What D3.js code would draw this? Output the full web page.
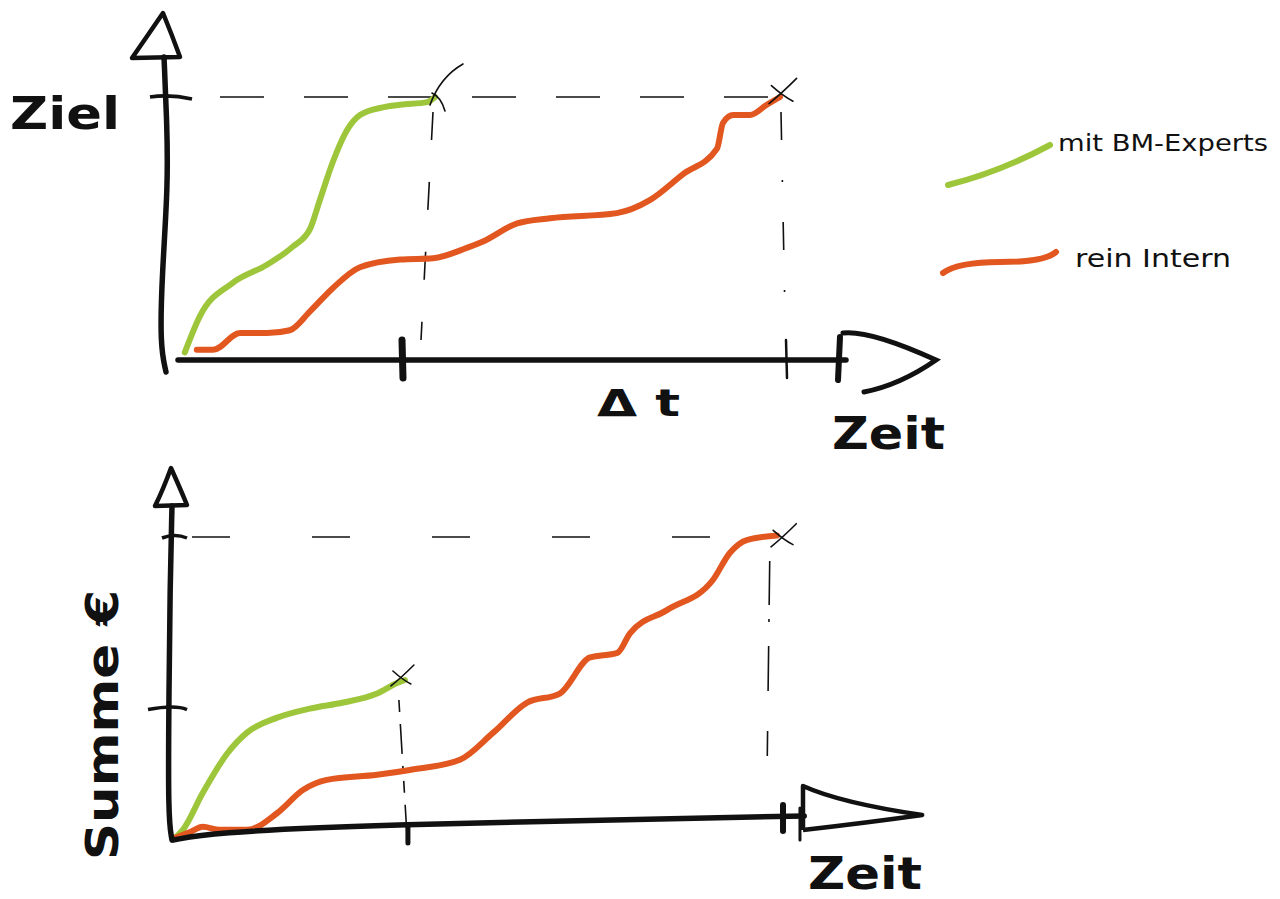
<!DOCTYPE html>
<html>
<head>
<meta charset="utf-8">
<script src="https://cdn.jsdelivr.net/npm/d3@7"></script>
<style>
  html, body { margin: 0; padding: 0; background: #fff; }
  svg { display: block; }
</style>
</head>
<body>
<svg id="chart" width="1280" height="899"></svg>
<script>
// ---------- DATA (time 0..10, value in % of goal / sum) ----------
const seriesNames = ["mit BM-Experts", "rein Intern"];
const seriesColors = ["#9dc63b", "#e2561f"];

// Top chart: progress towards goal ("Ziel")
const topGreenT  = [0.08, 0.33, 0.88, 1.45, 1.88, 2.17, 2.33, 2.55, 2.78, 3.0, 3.38, 3.67, 4.12, 4.25];
const topGreenV  = [1, 15, 28, 35, 42, 49, 60, 75, 87, 93, 96, 97, 98, 100];
const topOrangeT = [0.28, 0.55, 1.0, 1.45, 1.83, 2.17, 2.55, 3.0, 3.67, 4.22, 4.78, 5.05, 5.62, 6.17, 7.28, 7.83, 8.38, 8.95, 9.05, 9.22, 9.5, 9.78, 10.0];
const topOrangeV = [2, 2, 8.5, 8.5, 9.6, 17, 26, 34, 37, 37.5, 41.5, 44, 51, 53, 55, 60, 70, 80, 90, 93, 93, 97, 100];
const topTicksT  = [3.7, 10.1];          // Δt boundaries on the time axis
const topGoal    = 100;                  // "Ziel"

// Bottom chart: accumulated cost ("Summe €")
const botGreenT  = [0.0, 0.13, 0.46, 0.86, 1.19, 1.69, 2.23, 2.78, 3.34, 3.67, 3.8];
const botGreenV  = [0, 2.7, 15, 28, 35, 40, 43, 45, 48, 51.5, 52.5];
const botOrangeT = [0, 0.25, 0.46, 0.74, 1.19, 1.69, 2.12, 2.51, 3.34, 3.88, 4.71, 5.26, 5.82, 6.36, 6.86, 7.31, 7.52, 8.13, 8.89, 9.17, 9.45, 9.95];
const botOrangeV = [0, 2, 3.7, 2.7, 2.7, 8.3, 16, 19.3, 21, 22.6, 26, 35, 45, 48, 60, 61.5, 68, 75.7, 85.7, 94.7, 99, 100.5];
const botTicksV  = [100, 43];
const botTicksT  = [3.85, 10.0];

const labels = { goal: "Ziel", time: "Zeit", delta: "Δ t", sum: "Summe €" };

// ---------- SCALES ----------
const xTop = d3.scaleLinear().domain([0, 10]).range([180, 780]);
const yTop = d3.scaleLinear().domain([0, 100]).range([355, 97]);
const xBot = d3.scaleLinear().domain([0, 10]).range([175, 780]);
const yBot = d3.scaleLinear().domain([0, 100]).range([838, 537]);

const svg = d3.select("#chart");
const ink = "#111";
const handFont = "'DejaVu Sans', 'Noto Sans', sans-serif";
const axisW = 5.5;

const smooth = d3.line().curve(d3.curveMonotoneX);
const basis = d3.line().curve(d3.curveBasis);

function drawSeries(g, T, V, xs, ys, color) {
  const pts = T.map((t, i) => [xs(t), ys(V[i])]);
  g.append("path").attr("d", smooth(pts))
    .attr("fill", "none").attr("stroke", color)
    .attr("stroke-width", 6).attr("stroke-linecap", "round").attr("stroke-linejoin", "round");
}

function cross(g, cx, cy, s) {
  g.append("path").attr("d", `M${cx - s},${cy + s * 0.8} Q${cx},${cy} ${cx + s * 1.3},${cy - s * 1.3}`)
    .attr("fill", "none").attr("stroke", ink).attr("stroke-width", 1.6).attr("stroke-linecap", "round");
  g.append("path").attr("d", `M${cx - s * 0.8},${cy - s * 0.7} Q${cx + 2},${cy + 2} ${cx + s},${cy + s * 0.6}`)
    .attr("fill", "none").attr("stroke", ink).attr("stroke-width", 1.6).attr("stroke-linecap", "round");
}

// ================= TOP CHART =================
const gt = svg.append("g");
const x0 = xTop(0), y0 = yTop(0);

// Dashed guide lines
gt.append("path")
  .attr("d", `M${x0 + 10},${yTop(topGoal)} L${xTop(10)},${yTop(topGoal)}`)
  .attr("stroke", ink).attr("stroke-width", 1.6).attr("fill", "none")
  .attr("stroke-dasharray", "44,40").attr("stroke-dashoffset", "-30");
const gEndT = topGreenT[topGreenT.length - 1];
gt.append("path")
  .attr("d", `M${xTop(gEndT) - 2},${yTop(topGoal) + 15} L${xTop(gEndT) - 14},${y0 - 15}`)
  .attr("stroke", ink).attr("stroke-width", 1.6).attr("fill", "none").attr("stroke-dasharray", "28,42");
gt.append("path")
  .attr("d", `M${xTop(10) + 1},${yTop(topGoal) + 15} L${xTop(10) + 5},${y0 - 40}`)
  .attr("stroke", ink).attr("stroke-width", 1.6).attr("fill", "none").attr("stroke-dasharray", "28,40,2,40");

// Series
drawSeries(gt, topGreenT, topGreenV, xTop, yTop, seriesColors[0]);
drawSeries(gt, topOrangeT, topOrangeV, xTop, yTop, seriesColors[1]);

// end crosses
gt.append("path").attr("d", `M${xTop(gEndT) - 5},${yTop(topGoal) + 8} Q${xTop(gEndT) + 5},${yTop(topGoal) - 20} ${xTop(gEndT) + 28},${yTop(topGoal) - 33}`)
  .attr("fill", "none").attr("stroke", ink).attr("stroke-width", 1.6).attr("stroke-linecap", "round");
gt.append("path").attr("d", `M${xTop(gEndT) - 3},${yTop(topGoal) - 4} Q${xTop(gEndT) + 6},${yTop(topGoal)} ${xTop(gEndT) + 10},${yTop(topGoal) + 14}`)
  .attr("fill", "none").attr("stroke", ink).attr("stroke-width", 1.6).attr("stroke-linecap", "round");
cross(gt, xTop(10) + 1, yTop(topGoal) - 3, 12);

// Y axis (hand drawn)
gt.append("path")
  .attr("d", basis([[x0 - 14, y0 + 17], [x0 - 20, y0 - 10], [x0 - 18, y0 - 80], [x0 - 12, y0 - 170], [x0 - 13, y0 - 230], [x0 - 16, 57]]))
  .attr("fill", "none").attr("stroke", ink).attr("stroke-width", axisW).attr("stroke-linecap", "round");
// y arrowhead
gt.append("path")
  .attr("d", `M${x0 - 48},${58} Q${x0 - 32},${35} ${x0 - 17},${13} Q${x0 - 8},${35} ${x0},${57} Z`)
  .attr("fill", "none").attr("stroke", ink).attr("stroke-width", 4.5).attr("stroke-linejoin", "round");
// goal tick
gt.append("path").attr("d", `M${x0 - 30},${yTop(topGoal)} Q${x0 - 10},${yTop(topGoal) - 3} ${x0 + 12},${yTop(topGoal) + 2}`)
  .attr("fill", "none").attr("stroke", ink).attr("stroke-width", 3.5);
gt.append("text").attr("x", 10).attr("y", yTop(topGoal) + 32)
  .attr("font-family", handFont).attr("font-weight", 700).attr("font-size", 44)
  .attr("textLength", 110).attr("lengthAdjust", "spacingAndGlyphs").attr("fill", ink).text(labels.goal);

// X axis
gt.append("path").attr("d", `M${x0 - 2},${y0 + 5} L${xTop(11.1)},${y0 + 5}`)
  .attr("stroke", ink).attr("stroke-width", axisW).attr("stroke-linecap", "round");
topTicksT.forEach((t, i) => {
  gt.append("path").attr("d", `M${xTop(t)},${y0 - 15} L${xTop(t) + 1},${y0 + 23}`)
    .attr("stroke", ink).attr("stroke-width", i === 0 ? 7 : 2.5).attr("stroke-linecap", "round");
});
gt.append("path").attr("d", `M${xTop(11.0)},${y0 - 18} L${xTop(11.0) - 2},${y0 + 25}`)
  .attr("stroke", ink).attr("stroke-width", 6).attr("stroke-linecap", "round");
// x arrowhead (open)
gt.append("path")
  .attr("d", `M${xTop(11.05)},${y0 - 22} Q${xTop(11.5)},${y0 - 25} ${xTop(12.6)},${y0 + 5} Q${xTop(12.0)},${y0 + 30} ${xTop(11.4)},${y0 + 37}`)
  .attr("fill", "none").attr("stroke", ink).attr("stroke-width", 5).attr("stroke-linecap", "round");
gt.append("text").attr("x", 832).attr("y", 449)
  .attr("font-family", handFont).attr("font-weight", 700).attr("font-size", 44)
  .attr("textLength", 113).attr("lengthAdjust", "spacingAndGlyphs").attr("fill", ink).text(labels.time);
gt.append("text").attr("x", 597).attr("y", 416)
  .attr("font-family", handFont).attr("font-weight", 700).attr("font-size", 38)
  .attr("textLength", 83).attr("lengthAdjust", "spacingAndGlyphs").attr("fill", ink).text(labels.delta);

// Legend
const legend = svg.append("g");
legend.append("path").attr("d", "M948,185 Q1000,172 1050,145")
  .attr("fill", "none").attr("stroke", seriesColors[0]).attr("stroke-width", 6).attr("stroke-linecap", "round");
legend.append("path").attr("d", "M943,273 Q958,262 1000,262 Q1045,262 1056,252")
  .attr("fill", "none").attr("stroke", seriesColors[1]).attr("stroke-width", 6).attr("stroke-linecap", "round");
legend.append("text").attr("x", 1058).attr("y", 151)
  .attr("font-family", handFont).attr("font-size", 23).attr("fill", ink)
  .attr("textLength", 210).attr("lengthAdjust", "spacingAndGlyphs").text(seriesNames[0]);
legend.append("text").attr("x", 1075).attr("y", 267)
  .attr("font-family", handFont).attr("font-size", 24).attr("fill", ink)
  .attr("textLength", 156).attr("lengthAdjust", "spacingAndGlyphs").text(seriesNames[1]);

// ================= BOTTOM CHART =================
const gb = svg.append("g");
const bx0 = xBot(0), by0 = yBot(0);

// Dashed guides
gb.append("path")
  .attr("d", `M${bx0 + 12},${yBot(100)} L${xBot(9.8)},${yBot(100)}`)
  .attr("stroke", ink).attr("stroke-width", 1.6).attr("fill", "none")
  .attr("stroke-dasharray", "38,82").attr("stroke-dashoffset", "-5");
const bgEndT = botGreenT[botGreenT.length - 1];
gb.append("path")
  .attr("d", `M${xBot(bgEndT) - 6},${yBot(botGreenV[botGreenV.length - 1]) + 20} L${xBot(bgEndT) + 2},${by0 - 4}`)
  .attr("stroke", ink).attr("stroke-width", 1.6).attr("fill", "none").attr("stroke-dasharray", "12,12,30,12,3,12");
gb.append("path")
  .attr("d", `M${xBot(9.83)},${yBot(92)} L${xBot(9.78)},${by0 - 35}`)
  .attr("stroke", ink).attr("stroke-width", 1.6).attr("fill", "none").attr("stroke-dasharray", "44,14,3,24,45,40,25,1000");

// Series
drawSeries(gb, botGreenT, botGreenV, xBot, yBot, seriesColors[0]);
drawSeries(gb, botOrangeT, botOrangeV, xBot, yBot, seriesColors[1]);

cross(gb, xBot(bgEndT) - 4, yBot(botGreenV[botGreenV.length - 1]) - 2, 10);
cross(gb, xBot(10) + 2, yBot(100) + 1, 11);

// Y axis
gb.append("path")
  .attr("d", basis([[bx0 - 3, by0 + 2], [bx0 - 7, by0 - 20], [bx0 - 6, by0 - 150], [bx0 - 5, by0 - 250], [bx0 - 3, 506]]))
  .attr("fill", "none").attr("stroke", ink).attr("stroke-width", axisW).attr("stroke-linecap", "round");
gb.append("path")
  .attr("d", `M${bx0 - 20},${506} Q${bx0 - 12},${490} ${bx0 - 4},${468} Q${bx0 + 5},${488} ${bx0 + 12},${505} Z`)
  .attr("fill", "none").attr("stroke", ink).attr("stroke-width", 4.5).attr("stroke-linejoin", "round");
botTicksV.forEach((v, i) => {
  gb.append("path").attr("d", `M${bx0 - (i ? 27 : 13)},${yBot(v) + 1} Q${bx0},${yBot(v) - 4} ${bx0 + 12},${yBot(v) + 1}`)
    .attr("fill", "none").attr("stroke", ink).attr("stroke-width", 3.5);
});
gb.append("text")
  .attr("transform", `translate(118,${725}) rotate(-90)`)
  .attr("text-anchor", "middle")
  .attr("font-family", handFont).attr("font-weight", 700).attr("font-size", 44)
  .attr("textLength", 270).attr("lengthAdjust", "spacingAndGlyphs").attr("fill", ink).text(labels.sum);

// X axis (slightly rising)
gb.append("path")
  .attr("d", basis([[bx0 - 2, by0 + 2], [xBot(0.6), by0 - 5], [xBot(3), by0 - 13], [xBot(10.4), by0 - 22]]))
  .attr("fill", "none").attr("stroke", ink).attr("stroke-width", axisW).attr("stroke-linecap", "round");
gb.append("path").attr("d", `M${xBot(botTicksT[0])},${by0 - 12} L${xBot(botTicksT[0])},${by0 + 5}`)
  .attr("stroke", ink).attr("stroke-width", 5).attr("stroke-linecap", "round");
gb.append("path").attr("d", `M${xBot(botTicksT[1]) + 3},${by0 - 33} L${xBot(botTicksT[1]) + 3},${by0 - 7}`)
  .attr("stroke", ink).attr("stroke-width", 6).attr("stroke-linecap", "round");
gb.append("path").attr("d", `M${xBot(10.33)},${by0 - 30} L${xBot(10.33)},${by0 + 2}`)
  .attr("stroke", ink).attr("stroke-width", 3).attr("stroke-linecap", "round");
gb.append("path")
  .attr("d", `M${xBot(10.38)},${by0 - 8} L${xBot(10.38)},${by0 - 52} Q${xBot(11.0)},${by0 - 35} ${xBot(12.35)},${by0 - 23} Q${xBot(11.4)},${by0 - 15} ${xBot(10.38)},${by0 - 8}`)
  .attr("fill", "none").attr("stroke", ink).attr("stroke-width", 4.5).attr("stroke-linejoin", "round");
gb.append("text").attr("x", 808).attr("y", 889)
  .attr("font-family", handFont).attr("font-weight", 700).attr("font-size", 44)
  .attr("textLength", 114).attr("lengthAdjust", "spacingAndGlyphs").attr("fill", ink).text(labels.time);
</script>
</body>
</html>
